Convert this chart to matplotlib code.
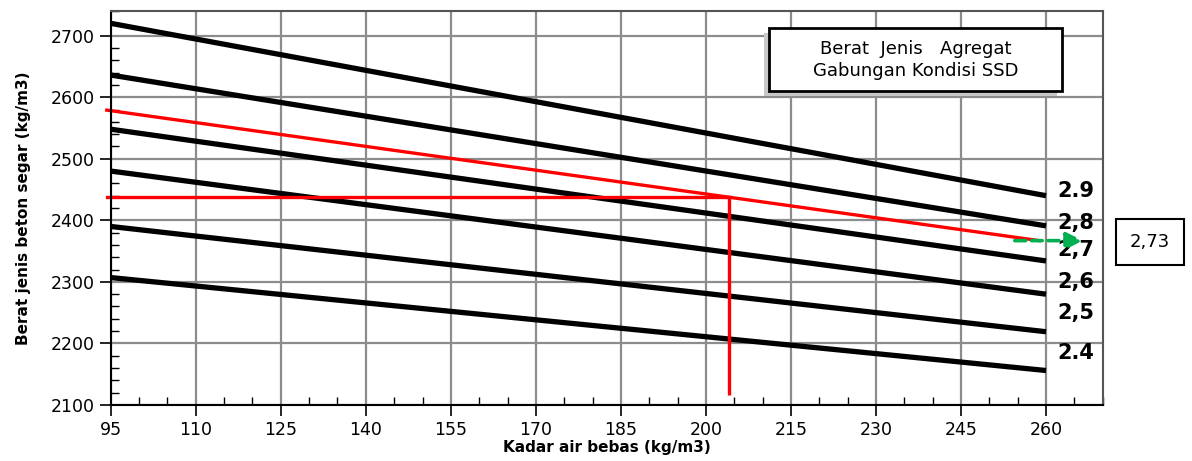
import matplotlib

matplotlib.use("Agg")

import matplotlib.pyplot as plt
from matplotlib.patches import Rectangle
from matplotlib.ticker import MultipleLocator

# kurva berat jenis agregat gabungan (SSD), garis lurus dari 95 ke 260
kadar_air = [95, 260]
bj_labels = ["2.9", "2,8", "2,7", "2,6", "2,5", "2.4"]
bj_start = [2720, 2636, 2548, 2480, 2390, 2307]
bj_end = [2440, 2391, 2334, 2280, 2219, 2156]
label_y = [2447, 2396, 2352, 2300, 2250, 2185]

# garis interpolasi 2,73 (merah)
interp_x = [94.3, 258.8]
interp_y = [2579, 2367]
hasil_x = [94.3, 204]
hasil_y = [2438, 2438]
vert_x = [204, 204]
vert_y = [2438, 2117]
arrow_x = [254, 267]
arrow_y = [2367, 2367]
hasil_bj = "2,73"

plt.rcParams["font.family"] = "DejaVu Sans"

fig = plt.figure(figsize=(11.92, 4.61), dpi=100)
ax = fig.add_axes([0.0929, 0.1215, 0.8322, 0.8546])

ax.set_xlim(95, 270)
ax.set_ylim(2100, 2740)
ax.xaxis.set_major_locator(MultipleLocator(15))
ax.xaxis.set_minor_locator(MultipleLocator(5))
ax.yaxis.set_major_locator(MultipleLocator(100))
ax.yaxis.set_minor_locator(MultipleLocator(20))
ax.set_xticks(range(95, 261, 15))
ax.set_yticks(range(2100, 2701, 100))
ax.grid(True, which="major", color="#8c8c8c", linewidth=1.6)
ax.set_axisbelow(True)
ax.tick_params(which="major", direction="out", length=8, width=1.2, labelsize=12.5, colors="black")
ax.tick_params(which="minor", direction="in", length=6, width=1.0)
for side in ["top", "right"]:
    ax.spines[side].set_color("#555555")
    ax.spines[side].set_linewidth(1.5)
for side in ["left", "bottom"]:
    ax.spines[side].set_linewidth(1.5)

for lbl, y0, y1, ly in zip(bj_labels, bj_start, bj_end, label_y):
    ax.plot(kadar_air, [y0, y1], color="black", linewidth=3.8, solid_capstyle="butt")
    ax.text(262, ly, lbl, fontsize=15, fontweight="bold", ha="left", va="center")

ax.plot(interp_x, interp_y, color="#ff0000", linewidth=2.4, clip_on=False)
ax.plot(hasil_x, hasil_y, color="#ff0000", linewidth=2.4, clip_on=False)
ax.plot(vert_x, vert_y, color="#ff0000", linewidth=2.4, solid_capstyle="butt")
ax.annotate("", xy=(arrow_x[1], arrow_y[1]), xytext=(arrow_x[0], arrow_y[0]),
            arrowprops=dict(arrowstyle="-|>,head_length=1.0,head_width=0.5",
                            color="#00b050", linewidth=2.6, linestyle=(0, (3, 1.6))))

# kotak judul dengan bayangan
ax.add_patch(Rectangle((210.3, 2602), 51.6, 102.5, facecolor="#c8c8c8", edgecolor="none", zorder=4))
ax.add_patch(Rectangle((211.2, 2610), 51.6, 102.5, facecolor="white", edgecolor="black", linewidth=2, zorder=5))
ax.text(237, 2661, "Berat  Jenis   Agregat\nGabungan Kondisi SSD", fontsize=13,
        ha="center", va="center", linespacing=1.3, zorder=6)

fig.text(0.9648, 0.475, hasil_bj, fontsize=13, ha="center", va="center",
         bbox=dict(boxstyle="square,pad=0.75", facecolor="white", edgecolor="black", linewidth=1.5))

ax.set_xlabel("Kadar air bebas (kg/m3)", fontsize=11, fontweight="bold", labelpad=1)
ax.set_ylabel("Berat jenis beton segar (kg/m3)", fontsize=11, fontweight="bold", labelpad=14)

fig.savefig("out.png", dpi=100)
